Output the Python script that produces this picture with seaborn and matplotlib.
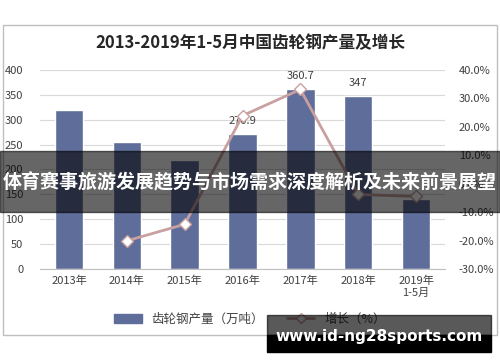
import matplotlib
matplotlib.use("Agg")
import matplotlib.pyplot as plt
from matplotlib.patches import Rectangle
from matplotlib.lines import Line2D
from matplotlib.patches import Patch
import seaborn as sns
import pandas as pd

# data
years = ["2013年", "2014年", "2015年", "2016年", "2017年", "2018年", "2019年\n1-5月"]
output = [319, 255, 219, 270.9, 360.7, 347, 141]
growth_years = years[1:]
growth = [-20.1, -14.3, 23.9, 33.1, -3.8, -4.5]
labelled = {"2016年": "270.9", "2017年": "360.7", "2018年": "347"}

title = "2013-2019年1-5月中国齿轮钢产量及增长"
banner = "体育赛事旅游发展趋势与市场需求深度解析及未来前景展望"
site = "www.id-ng28sports.com"

sns.set_style("white")
plt.rcParams["font.family"] = ["Noto Sans CJK SC", "DejaVu Sans"]

bar_c = "#5f6d9b"
line_c = "#c9a0a0"
txt_c = "#404040"

fig = plt.figure(figsize=(5, 3.62), dpi=100)
ax = fig.add_axes([0.08, 0.257, 0.81, 0.55])

df = pd.DataFrame({"year": years, "output": output})
sns.barplot(data=df, x="year", y="output", color=bar_c, width=0.49,
            saturation=1, ax=ax, zorder=2)
ax.set_ylim(0, 400)
ax.set_yticks(range(0, 401, 50))
ax.grid(axis="y", color="#d9d9d9", lw=0.8, zorder=0)
ax.set_xlabel("")
ax.set_ylabel("")
for s in ["top", "right", "left"]:
    ax.spines[s].set_visible(False)
ax.spines["bottom"].set_color("#bfbfbf")
ax.tick_params(axis="y", length=0, labelsize=8, labelcolor=txt_c, pad=12)
ax.tick_params(axis="x", length=0, labelsize=8, labelcolor=txt_c, pad=5)
ax.set_xticks(range(len(years)))
ax.set_xticklabels(years)
# minor ticks between categories
ax.set_xticks([i - 0.5 for i in range(len(years) + 1)], minor=True)
ax.tick_params(axis="x", which="minor", length=4, color="#bfbfbf", direction="out")
for i, y in enumerate(years):
    if y in labelled:
        ax.annotate(labelled[y], (i, output[i]), xytext=(0, 6),
                    textcoords="offset points", ha="center", va="bottom",
                    fontsize=8, color=txt_c)

ax2 = ax.twinx()
gx = [years.index(y) for y in growth_years]
sns.lineplot(x=gx, y=growth, ax=ax2, color=line_c, lw=2, marker="D",
             markersize=6, markerfacecolor="white", markeredgecolor=line_c,
             markeredgewidth=1, zorder=3)
ax2.set_ylim(-30, 40)
ax2.set_yticks(range(-30, 41, 10))
ax2.set_yticklabels([f"{v:.1f}%" for v in range(-30, 41, 10)])
ax2.tick_params(axis="y", length=0, labelsize=8, labelcolor=txt_c, pad=10)
for s in ax2.spines.values():
    s.set_visible(False)
ax.set_xlim(-0.5, len(years) - 0.5)

fig.text(0.5, 0.88, title, ha="center", va="center", fontsize=12,
         fontweight="bold", color="#262626")

handles = [Patch(color=bar_c), Line2D([0], [0], color=line_c, lw=2, marker="D",
           markerfacecolor="white", markeredgecolor=line_c, markersize=5)]
fig.legend(handles, ["齿轮钢产量（万吨）", "增长（%）"], loc="center",
           bbox_to_anchor=(0.5, 0.118), ncol=2, frameon=False, fontsize=9,
           handlelength=2.2, columnspacing=1.8, labelcolor=txt_c)

# outer frame
fig.patches.append(Rectangle((0.006, 1 - 335 / 362), 0.988, 310 / 362,
                             transform=fig.transFigure, fill=False,
                             ec="#bfbfbf", lw=1))

# overlay banner
fig.patches.append(Rectangle((0, 1 - 212 / 362), 1, 61 / 362,
                             transform=fig.transFigure, color="black",
                             alpha=0.6, zorder=10))
fig.text(0.5, 1 - 183 / 362, banner, ha="center", va="center", fontsize=13.7,
         fontweight="bold", color="white", zorder=11)

# site box
fig.patches.append(Rectangle((267 / 500, 1 - 335 / 362), 224 / 500, 20 / 362,
                             transform=fig.transFigure, color="black",
                             alpha=0.65, zorder=10))
fig.patches.append(Rectangle((267 / 500, 1 - 352 / 362), 224 / 500, 17 / 362,
                             transform=fig.transFigure, color="black",
                             zorder=10))
fig.text(379 / 500, 1 - 337 / 362, site, ha="center", va="center",
         fontsize=11, fontweight="bold", color="white", zorder=11,
         family="DejaVu Sans")

fig.savefig("out.png", dpi=100, facecolor="white")
